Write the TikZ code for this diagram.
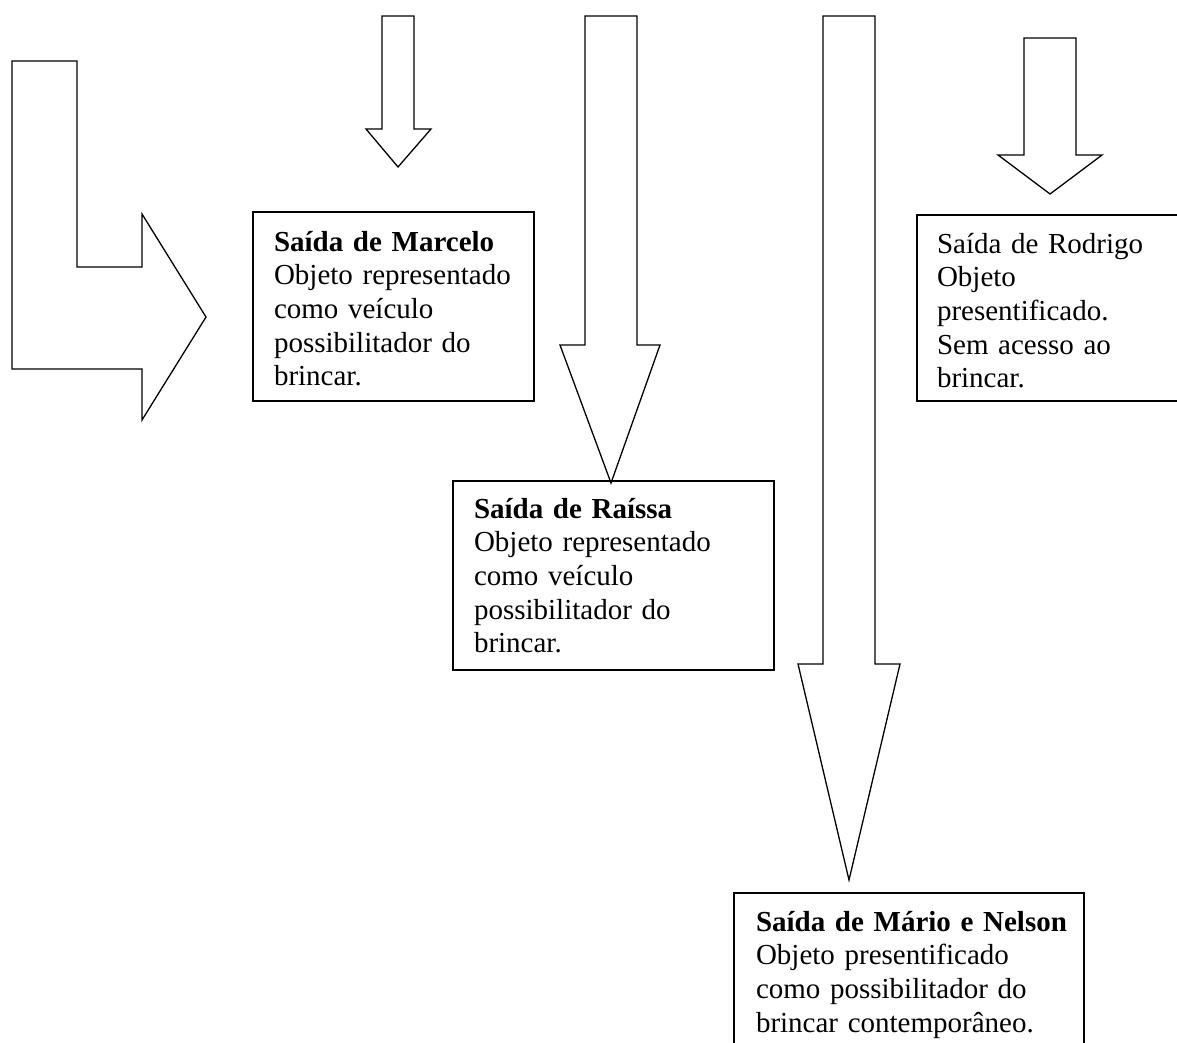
\documentclass[tikz,border=0pt]{standalone}
\usepackage{fontspec}
\setmainfont{Liberation Serif}
\tikzset{
  caixa/.style={draw, line width=1.6pt, anchor=north west, align=left,
    inner ysep=0pt, inner xsep=21pt, outer sep=0pt,
    font=\fontsize{29}{33.7}\selectfont},
  seta/.style={draw, line width=1.3pt, line join=miter}
}
\begin{document}
\begin{tikzpicture}[x=1pt, y=-1pt]
  \clip (0,0) rectangle (1177,1043);
  % setas
  \draw[seta] (12,61) -- (77,61) -- (77,267) -- (142,267) -- (142,214)
              -- (206,317) -- (142,420) -- (142,369) -- (12,369) -- cycle;
  \draw[seta] (382,16) -- (414,16) -- (414,129) -- (431,129) -- (398,167)
              -- (366,129) -- (382,129) -- cycle;
  \draw[seta] (585,16) -- (637,16) -- (637,345) -- (660,345) -- (611,483)
              -- (560,345) -- (585,345) -- cycle;
  \draw[seta] (823,16) -- (875,16) -- (875,664) -- (900,664) -- (849,880)
              -- (798,664) -- (823,664) -- cycle;
  \draw[seta] (1024,38) -- (1076,38) -- (1076,155) -- (1102,155) -- (1050,194)
              -- (998,155) -- (1024,155) -- cycle;
  % caixas
  \node (Marcelo) [caixa, text width=239pt, text height=39pt, text depth=150pt]
    at (253,212) {\textbf{Saída de Marcelo}\\Objeto representado\\como veículo\\possibilitador do\\brincar.};
  \node (Raissa) [caixa, text width=279pt, text height=37pt, text depth=152pt]
    at (453,481) {\textbf{Saída de Raíssa}\\Objeto representado\\como veículo\\possibilitador do\\brincar.};
  \node (Rodrigo) [caixa, inner xsep=20pt, text width=233pt, text height=38pt, text depth=148pt]
    at (917,215) {Saída de Rodrigo\\Objeto\\presentificado.\\Sem acesso ao\\brincar.};
  \node (MarioNelson) [caixa, inner xsep=22pt, text width=306pt, text height=38pt, text depth=140pt]
    at (734,893) {\mbox{\textbf{Saída de Mário e Nelson}}\\Objeto presentificado\\como possibilitador do\\\mbox{brincar contemporâneo.}};
\end{tikzpicture}
\end{document}
